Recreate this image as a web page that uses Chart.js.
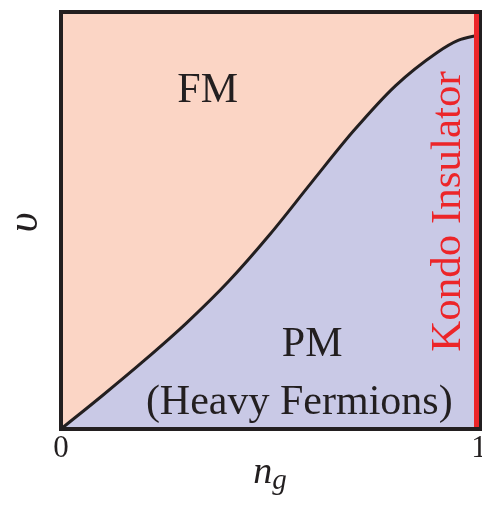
<!DOCTYPE html>
<html>
<head>
<meta charset="utf-8">
<script src="https://cdn.jsdelivr.net/npm/chart.js@4/dist/chart.umd.min.js"></script>
<style>
  html, body { margin: 0; padding: 0; background: #ffffff; }
  #wrap { width: 482px; height: 505px; }
</style>
</head>
<body>
<div id="wrap"><canvas id="c" width="482" height="505"></canvas></div>
<script>
// ---- data ----
const ngValues = [0, 0.1, 0.2, 0.3, 0.4, 0.5, 0.6, 0.7, 0.8, 0.9, 0.95, 1.0];
const upsilonBoundary = [0, 0.081, 0.165, 0.254, 0.353, 0.467, 0.592, 0.715, 0.823, 0.903, 0.932, 0.945];
const kondoX = [1, 1];
const kondoY = [0, 1];
const xTickValues = [0, 1];
const xTickLabels = ['0', '1'];
const regionNames = ['FM', 'PM', '(Heavy Fermions)', 'Kondo Insulator'];

const PEACH = '#FBD5C5';
const LAVENDER = '#C9C9E6';
const INK = '#231F20';
const RED = '#EC2529';
const SERIF = '"Liberation Serif", "Times New Roman", serif';

const boundary = ngValues.map((x, i) => ({ x: x, y: upsilonBoundary[i] }));
const kondo = kondoX.map((x, i) => ({ x: x, y: kondoY[i] }));

const decor = {
  id: 'decor',
  beforeDraw(chart) {
    const { ctx, chartArea: a } = chart;
    ctx.save();
    ctx.fillStyle = PEACH;
    ctx.fillRect(a.left, a.top, a.right - a.left, a.bottom - a.top);
    ctx.restore();
  },
  afterDraw(chart) {
    const { ctx, chartArea: a } = chart;
    const xs = chart.scales.x, ys = chart.scales.y;
    ctx.save();
    // frame
    ctx.strokeStyle = INK;
    ctx.lineWidth = 4;
    ctx.strokeRect(a.left, a.top, (a.right + 2) - a.left, a.bottom - a.top);

    ctx.fillStyle = INK;
    ctx.textAlign = 'center';
    ctx.textBaseline = 'alphabetic';
    ctx.font = '42px ' + SERIF;
    ctx.fillText(regionNames[0], xs.getPixelForValue(0.351), ys.getPixelForValue(0.784));
    ctx.fillText(regionNames[1], xs.getPixelForValue(0.601), ys.getPixelForValue(0.175));
    ctx.fillText(regionNames[2], xs.getPixelForValue(0.570), ys.getPixelForValue(0.036));

    // Kondo Insulator (rotated)
    ctx.save();
    ctx.fillStyle = RED;
    ctx.font = '43px ' + SERIF;
    ctx.translate(460, (a.top + a.bottom) / 2 - 9);
    ctx.rotate(-Math.PI / 2);
    ctx.textAlign = 'center';
    ctx.fillText(regionNames[3], 0, 0);
    ctx.restore();

    // y axis title
    ctx.save();
    ctx.fillStyle = INK;
    ctx.font = 'italic 44px ' + SERIF;
    ctx.translate(37, (a.top + a.bottom) / 2 + 2);
    ctx.rotate(-Math.PI / 2);
    ctx.textAlign = 'center';
    ctx.fillText('\u03C5', 0, 0);
    ctx.restore();

    // x axis title n_g
    ctx.save();
    ctx.fillStyle = INK;
    ctx.textAlign = 'left';
    ctx.font = 'italic 38px ' + SERIF;
    const nW = ctx.measureText('n').width;
    ctx.font = 'italic 29px ' + SERIF;
    const gW = ctx.measureText('g').width;
    const cx = (a.left + a.right) / 2;
    const x0 = cx - (nW + gW) / 2;
    ctx.font = 'italic 38px ' + SERIF;
    ctx.fillText('n', x0, 483);
    ctx.font = 'italic 29px ' + SERIF;
    ctx.fillText('g', x0 + nW, 489);
    ctx.restore();

    ctx.restore();
  }
};

new Chart(document.getElementById('c'), {
  type: 'line',
  data: {
    datasets: [
      {
        label: 'Kondo',
        data: kondo,
        borderColor: RED,
        borderWidth: 10,
        pointRadius: 0,
        fill: false,
        clip: 0,
        order: 0
      },
      {
        label: 'boundary',
        data: boundary,
        borderColor: INK,
        borderWidth: 3,
        backgroundColor: LAVENDER,
        pointRadius: 0,
        fill: 'origin',
        cubicInterpolationMode: 'monotone',
        clip: 0,
        order: 1
      }
    ]
  },
  options: {
    responsive: false,
    animation: false,
    events: [],
    layout: { padding: { left: 61, right: 3, top: 12, bottom: 0 } },
    plugins: { legend: { display: false }, tooltip: { enabled: false } },
    scales: {
      x: {
        type: 'linear',
        min: 0,
        max: 1,
        grid: { display: false },
        border: { display: false },
        afterBuildTicks(scale) {
          scale.ticks = xTickValues.map(v => ({ value: v }));
        },
        afterFit(scale) {
          scale.height = 76;
          scale.paddingLeft = 0;
          scale.paddingRight = 0;
        },
        ticks: {
          autoSkip: false,
          maxRotation: 0,
          padding: -7,
          color: INK,
          font: { family: SERIF, size: 31 },
          callback(value) {
            const i = xTickValues.indexOf(value);
            return i >= 0 ? xTickLabels[i] : '';
          }
        }
      },
      y: {
        type: 'linear',
        min: 0,
        max: 1,
        display: false
      }
    }
  },
  plugins: [decor]
});
</script>
</body>
</html>
